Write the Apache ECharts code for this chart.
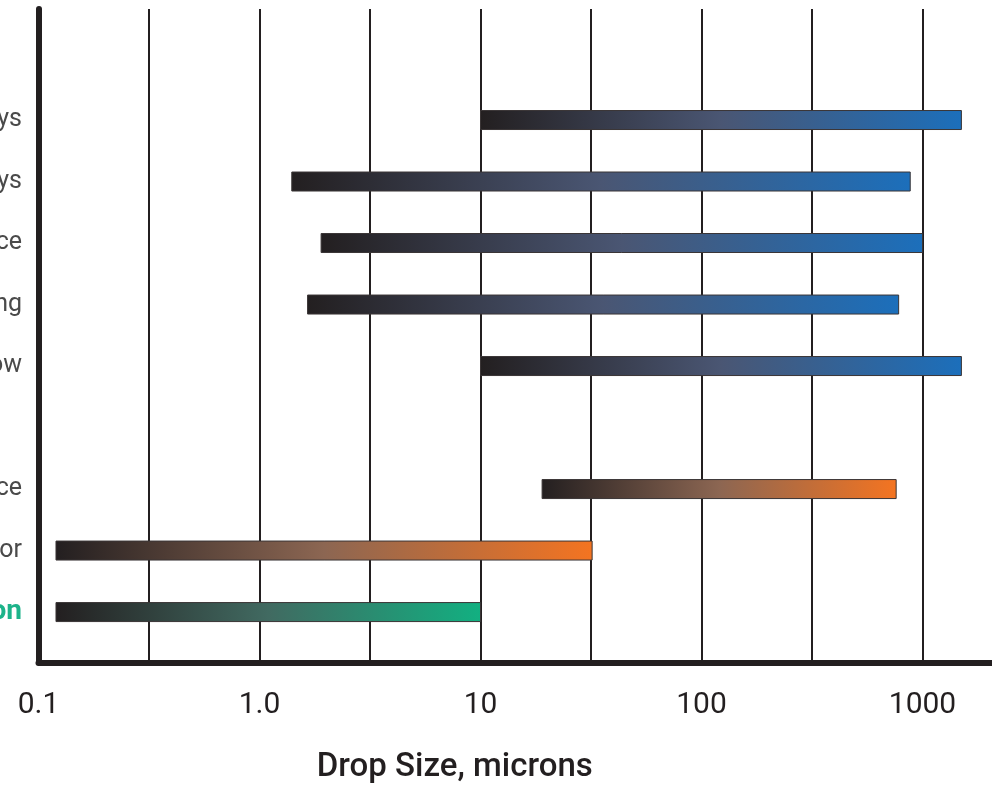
<!DOCTYPE html>
<html>
<head>
<meta charset="utf-8">
<title>Drop Size</title>
<script src="https://cdn.jsdelivr.net/npm/echarts@6/dist/echarts.min.js"></script>
<style>
  html, body { margin: 0; padding: 0; background: #fff; }
  #chart { width: 992px; height: 786px; }
</style>
</head>
<body>
<div id="chart"></div>
<script>
// rows, top to bottom (left labels are cut off by the picture edge)
var rowNames = [
  "Hydraulic Nozzle Sprays",
  "Air Atomizing Sprays",
  "Entrainment from Surface",
  "Bubbling",
  "Two-Phase Flow",
  "",
  "Condensation on Cold Surface",
  "Condensing Vapor",
  "Coalescing Filtration"
];
// drop size range per row, microns
var dropMin = [10, 1.4, 1.9, 1.65, 10, null, 19, 0.12, 0.12];
var dropMax = [1500, 880, 1000, 780, 1500, null, 760, 32, 10];
var rowGroup = ["blue", "blue", "blue", "blue", "blue", null, "orange", "orange", "green"];

var tickValues = [0.1, 1, 10, 100, 1000];
var tickLabels = ["0.1", "1.0", "10", "100", "1000"];

var groupColor = {
  blue: ["#231f20", "#4a5673", "#1c6fbb"],
  orange: ["#231f20", "#8c6652", "#f47421"],
  green: ["#231f20", "#416a61", "#12b081"]
};

var barData = [];
rowNames.forEach(function (name, i) {
  if (dropMin[i] == null) return;
  barData.push([Math.log10(dropMin[i]), Math.log10(dropMax[i]), i, rowGroup[i]]);
});
var labelData = rowNames.map(function (name, i) {
  return [-1, i, name, rowGroup[i]];
});

var myChart = echarts.init(document.getElementById("chart"));
var option = {
  animation: false,
  grid: { left: 38.5, right: -41, top: 9, bottom: 123.5, outerBoundsMode: "none", containLabel: false },
  xAxis: {
    type: "value",
    min: -1,
    max: 3.5,
    interval: 0.5,
    name: "Drop Size, microns",
    nameLocation: "middle",
    nameGap: 89,
    nameTextStyle: {
      fontFamily: "Roboto",
      fontSize: 33,
      fontWeight: 500,
      color: "#231f20",
      padding: [0, 162, 0, 0]
    },
    axisLine: { onZero: false, lineStyle: { color: "#231f20", width: 6 } },
    axisTick: { show: false },
    axisLabel: {
      margin: 28,
      fontFamily: "Roboto",
      fontSize: 30,
      color: "#231f20",
      formatter: function (v) {
        for (var k = 0; k < tickValues.length; k++) {
          if (Math.abs(Math.log10(tickValues[k]) - v) < 1e-6) return tickLabels[k];
        }
        return "";
      }
    },
    splitLine: { show: true, lineStyle: { color: "#231f20", width: 2 } }
  },
  yAxis: {
    type: "value",
    inverse: true,
    min: -1.805,
    max: 8.82,
    axisLine: { show: true, onZero: false, lineStyle: { color: "#231f20", width: 6 } },
    axisTick: { show: false },
    axisLabel: { show: false },
    splitLine: { show: false }
  },
  series: [
    {
      type: "custom",
      clip: false,
      data: barData,
      renderItem: function (params, api) {
        var a = api.coord([api.value(0), api.value(2)]);
        var b = api.coord([api.value(1), api.value(2)]);
        var c = groupColor[barData[params.dataIndex][3]];
        return {
          type: "rect",
          shape: { x: a[0], y: a[1] - 9.5, width: b[0] - a[0], height: 19 },
          style: {
            fill: new echarts.graphic.LinearGradient(0, 0, 1, 0, [
              { offset: 0, color: c[0] },
              { offset: 0.5, color: c[1] },
              { offset: 1, color: c[2] }
            ]),
            stroke: "#3a3536",
            lineWidth: 1
          }
        };
      }
    },
    {
      type: "custom",
      clip: false,
      silent: true,
      data: labelData,
      renderItem: function (params, api) {
        var p = api.coord([api.value(0), api.value(1)]);
        var item = labelData[params.dataIndex];
        var isGreen = item[3] === "green";
        return {
          type: "text",
          x: p[0] - 16.5,
          y: p[1],
          style: {
            text: item[2],
            align: "right",
            verticalAlign: "middle",
            fontFamily: "Roboto",
            fontSize: isGreen ? 28 : 25,
            fontWeight: isGreen ? "bold" : "normal",
            fill: isGreen ? "#1db38a" : "#4a4a4a"
          }
        };
      }
    }
  ]
};
myChart.setOption(option, true);
</script>
</body>
</html>
